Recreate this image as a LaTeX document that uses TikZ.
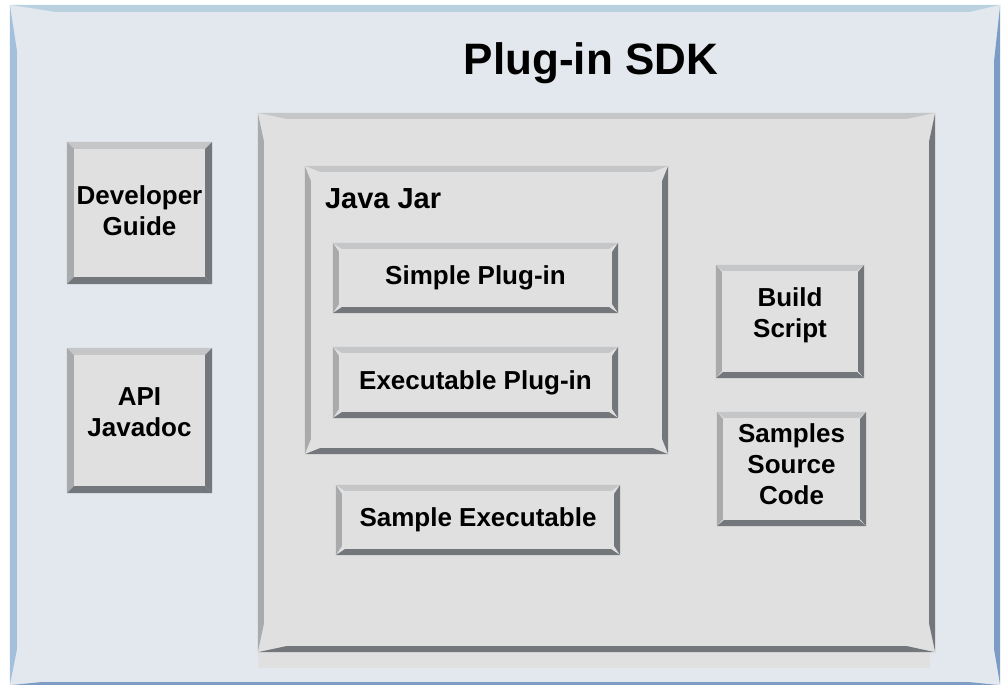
\documentclass[tikz,border=0pt]{standalone}
\usepackage{fontspec}
\setmainfont{Liberation Sans}
\usetikzlibrary{positioning}

\definecolor{sdkbg}{HTML}{E2E8ED}
\definecolor{sdktop}{HTML}{BAD2DF}
\definecolor{sdkleft}{HTML}{A2C0DE}
\definecolor{sdkright}{HTML}{7C9CC6}
\definecolor{face}{HTML}{E0E0E0}
\definecolor{bvlight}{HTML}{C4C6C8}
\definecolor{bvmid}{HTML}{A8AAAC}
\definecolor{bvshade}{HTML}{73777B}

% #1 node, #2 bevel depth, #3 taper along the edge
\newcommand\bevel[3]{%
  \fill[bvlight] (#1.north west) -- (#1.north east) -- ([shift={(-#3,#2)}]#1.north east) -- ([shift={(#3,#2)}]#1.north west) -- cycle;
  \fill[bvmid] (#1.north west) -- ([shift={(#2,#3)}]#1.north west) -- ([shift={(#2,-#3)}]#1.south west) -- (#1.south west) -- cycle;
  \fill[bvshade] (#1.north east) -- (#1.south east) -- ([shift={(-#2,-#3)}]#1.south east) -- ([shift={(-#2,#3)}]#1.north east) -- cycle;
  \fill[bvshade] (#1.south west) -- (#1.south east) -- ([shift={(-#3,-#2)}]#1.south east) -- ([shift={(#3,-#2)}]#1.south west) -- cycle;
}

\tikzset{
  plate/.style={fill=face, inner sep=0pt, align=center,
    font=\bfseries\fontsize{26}{31}\selectfont},
  jarlabel/.style={inner sep=0pt, font=\bfseries\fontsize{29}{34}\selectfont},
  sdktitle/.style={inner sep=0pt, font=\bfseries\fontsize{44}{50}\selectfont}
}

\begin{document}
\begin{tikzpicture}[x=1pt,y=-1pt]
	  \useasboundingbox (0,0) rectangle (1002,685);
	  \fill[white] (0,0) rectangle (1002,685);
	  \node[fill=sdkbg, inner sep=0pt, minimum width=990pt, minimum height=680pt] (sdk) at (505,345) {};
	  \fill[sdktop] (sdk.north west) -- (sdk.north east) -- ([shift={(-30,7)}]sdk.north east) -- ([shift={(45,7)}]sdk.north west) -- cycle;
	  \fill[sdkleft] (sdk.north west) -- ([shift={(7,45)}]sdk.north west) -- ([shift={(7,-35)}]sdk.south west) -- (sdk.south west) -- cycle;
	  \fill[sdkright] (sdk.north east) -- (sdk.south east) -- ([shift={(-6,-35)}]sdk.south east) -- ([shift={(-6,55)}]sdk.north east) -- cycle;
	  \fill[sdkright] (sdk.south west) -- (sdk.south east) -- ([shift={(-30,-3)}]sdk.south east) -- ([shift={(30,-3)}]sdk.south west) -- cycle;
	  \node[sdktitle, anchor=base] (title) at (591,75) {Plug-in SDK};

	  \node[plate, minimum width=677pt, minimum height=539pt] (core) at (596.5,382.5) {};
	  \fill[face] (core.south west) rectangle ([shift={(-5,16)}]core.south east);
	  \bevel{core}{6}{28}

	  \node[plate, minimum width=363pt, minimum height=288pt] (jar) at (486.5,310) {};
	  \bevel{jar}{6}{15}
	  \node[jarlabel, below right=23pt and 20pt of jar.north west] (jarname) {Java Jar};

	  \node[plate, minimum width=285pt, minimum height=70pt] (simple) at (475.5,278) {Simple Plug-in};
	  \bevel{simple}{6}{9}
	  \node[plate, minimum width=285pt, minimum height=71pt] (exec) at (475.5,382.5) {Executable Plug-in};
	  \bevel{exec}{6}{9}
	  \node[plate, minimum width=284pt, minimum height=70pt] (sampexe) at (478,520) {Sample Executable};
	  \bevel{sampexe}{6}{9}

	  \node[plate, minimum width=148pt, minimum height=113pt, text depth=17pt] (build) at (790,321.5) {Build\\Script};
	  \bevel{build}{6}{7}
	  \node[plate, minimum width=149pt, minimum height=114pt, text depth=10pt] (srccode) at (791.5,469) {Samples\\Source\\Code};
	  \bevel{srccode}{6}{7}

	  \node[plate, minimum width=145pt, minimum height=142pt, text depth=4pt] (devguide) at (139.5,213) {Developer\\Guide};
	  \bevel{devguide}{7}{7}
	  \node[plate, minimum width=145pt, minimum height=145pt, text depth=16pt] (javadoc) at (139.5,420.5) {API\\Javadoc};
	  \bevel{javadoc}{7}{7}
	\end{tikzpicture}
\end{document}
